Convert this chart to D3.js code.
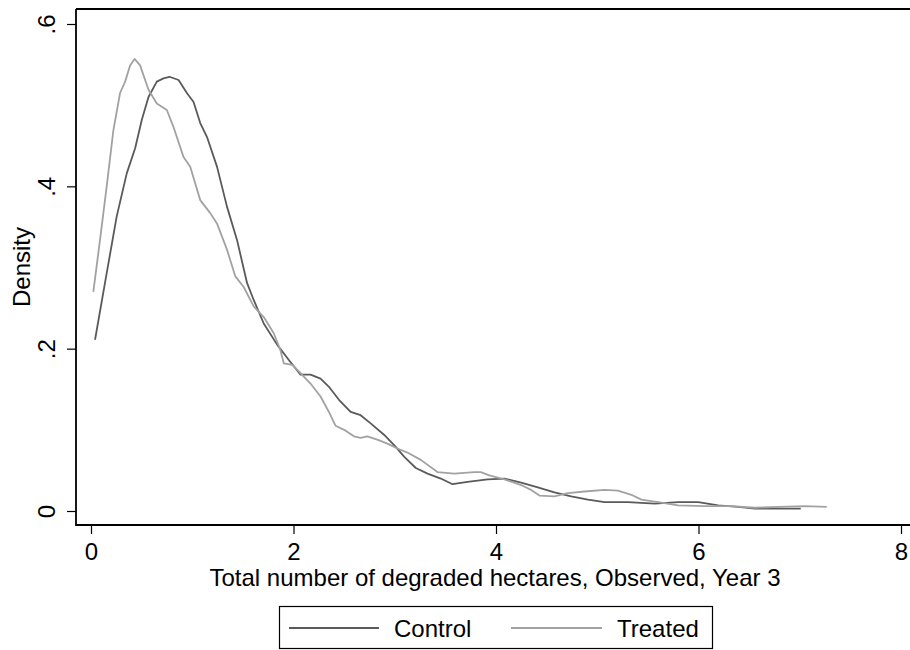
<!DOCTYPE html>
<html><head><meta charset="utf-8">
<script src="https://cdn.jsdelivr.net/npm/d3@7"></script>
<style>
html,body{margin:0;padding:0;background:#fff;}
svg{display:block;font-family:"Liberation Sans",Arial,Helvetica,sans-serif;}
</style></head>
<body><svg id="c" width="910" height="650"></svg>
<script>
const controlX = [0.04,0.155,0.254,0.353,0.436,0.502,0.568,0.650,0.716,0.775,0.865,0.947,1.013,1.079,1.145,1.245,1.343,1.442,1.541,1.607,1.706,1.838,1.954,2.069,2.168,2.267,2.35,2.449,2.564,2.663,2.762,2.894,3.01,3.092,3.208,3.324,3.455,3.571,3.719,3.918,4.083,4.248,4.413,4.577,4.743,4.908,5.072,5.304,5.568,5.799,5.997,6.195,6.393,6.558,6.723,7.01];
const controlY = [0.211,0.293,0.363,0.416,0.447,0.482,0.510,0.529,0.533,0.535,0.531,0.515,0.504,0.478,0.461,0.424,0.375,0.334,0.281,0.260,0.231,0.205,0.186,0.168,0.168,0.163,0.153,0.137,0.122,0.118,0.108,0.094,0.079,0.067,0.053,0.046,0.040,0.033,0.036,0.039,0.040,0.035,0.029,0.023,0.018,0.014,0.011,0.011,0.009,0.011,0.011,0.007,0.005,0.003,0.003,0.003];
const treatedX = [0.023,0.089,0.155,0.221,0.287,0.337,0.386,0.43,0.485,0.568,0.650,0.749,0.815,0.914,0.980,1.079,1.178,1.245,1.343,1.426,1.508,1.607,1.706,1.805,1.871,1.904,1.987,2.069,2.168,2.267,2.35,2.416,2.515,2.597,2.663,2.729,2.828,2.927,3.026,3.125,3.257,3.422,3.587,3.785,3.85,3.934,4.083,4.248,4.347,4.429,4.577,4.71,4.875,5.072,5.205,5.337,5.436,5.601,5.799,6.063,6.327,6.558,6.789,7.052,7.267];
const treatedY = [0.270,0.334,0.40,0.469,0.515,0.529,0.549,0.557,0.549,0.519,0.502,0.494,0.473,0.436,0.424,0.383,0.367,0.354,0.322,0.289,0.276,0.252,0.239,0.219,0.198,0.182,0.180,0.170,0.157,0.141,0.122,0.105,0.099,0.092,0.090,0.092,0.088,0.083,0.077,0.072,0.063,0.048,0.046,0.048,0.048,0.044,0.039,0.032,0.026,0.019,0.018,0.022,0.024,0.026,0.025,0.020,0.014,0.011,0.007,0.006,0.006,0.004,0.005,0.006,0.005];
const xTicks = [0,2,4,6,8];
const xTickLabels = ["0","2","4","6","8"];
const yTicks = [0,0.2,0.4,0.6];
const yTickLabels = ["0",".2",".4",".6"];
const seriesNames = ["Control","Treated"];

const svg = d3.select("#c");
const x = d3.scaleLinear().domain([0,8]).range([91,901]);
const y = d3.scaleLinear().domain([0,0.6]).range([511,24]);
const colors = {Control:"#5a5a5a", Treated:"#a2a2a2"};
const fs = 24;

// frame
svg.append("path").attr("d","M76,9 L915,9 M76,9 L76,525 L915,525")
  .attr("fill","none").attr("stroke","#000").attr("stroke-width",1.8);

// x axis
const xa = svg.append("g").attr("transform","translate(0,525)")
  .call(d3.axisBottom(x).tickValues(xTicks).tickFormat((d,i)=>xTickLabels[i]).tickSize(9).tickPadding(5));
xa.select(".domain").remove();
xa.selectAll("line").attr("stroke","#000").attr("stroke-width",1.2);
xa.selectAll("text").attr("font-size",fs).attr("font-family","Liberation Sans, Arial, sans-serif").attr("fill","#000")
  .attr("dy",null).attr("y",35);

// y axis
const ya = svg.append("g").attr("transform","translate(76,0)")
  .call(d3.axisLeft(y).tickValues(yTicks).tickFormat((d,i)=>yTickLabels[i]).tickSize(9).tickPadding(0));
ya.select(".domain").remove();
ya.selectAll("line").attr("stroke","#000").attr("stroke-width",1.2);
ya.selectAll("text").attr("font-size",fs).attr("font-family","Liberation Sans, Arial, sans-serif").attr("fill","#000")
  .attr("x",null).attr("dy",null).attr("text-anchor","middle")
  .attr("transform","translate(-30,0) rotate(-90)").attr("y",0).attr("dominant-baseline","central");

// titles
svg.append("text").attr("x",495).attr("y",586).attr("text-anchor","middle")
  .attr("font-size",fs).text("Total number of degraded hectares, Observed, Year 3");
svg.append("text").attr("transform","translate(30,267) rotate(-90)").attr("text-anchor","middle")
  .attr("font-size",fs).text("Density");

// lines
const line = d3.line().x(d=>x(d[0])).y(d=>y(d[1]));
const cData = controlX.map((v,i)=>[v,controlY[i]]);
const tData = treatedX.map((v,i)=>[v,treatedY[i]]);
svg.append("path").datum(cData).attr("d",line).attr("fill","none").attr("stroke",colors.Control).attr("stroke-width",1.8).attr("stroke-linejoin","round");
svg.append("path").datum(tData).attr("d",line).attr("fill","none").attr("stroke",colors.Treated).attr("stroke-width",1.8).attr("stroke-linejoin","round");

// legend
const lg = svg.append("g");
lg.append("rect").attr("x",279.5).attr("y",606.5).attr("width",433).attr("height",42)
  .attr("fill","#fff").attr("stroke","#000").attr("stroke-width",1.2);
const items = [{n:seriesNames[0],x1:289,x2:379,tx:394},{n:seriesNames[1],x1:511,x2:602,tx:617}];
items.forEach(it=>{
  lg.append("line").attr("x1",it.x1).attr("x2",it.x2).attr("y1",628).attr("y2",628)
    .attr("stroke",colors[it.n]).attr("stroke-width",1.8);
  lg.append("text").attr("x",it.tx).attr("y",637).attr("font-size",fs).text(it.n);
});
</script></body></html>
